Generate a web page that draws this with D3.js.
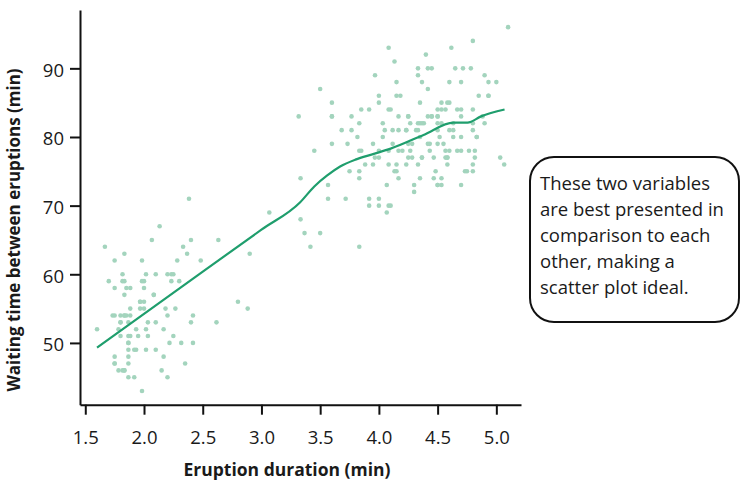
<!DOCTYPE html>
<html>
<head>
<meta charset="utf-8">
<script src="https://cdn.jsdelivr.net/npm/d3@7"></script>
<style>
  body { margin: 0; background: #fff; }
  text { font-family: "Open Sans", sans-serif; fill: #1a1a1a; }
</style>
</head>
<body>
<svg id="chart" width="740" height="484"></svg>
<script>
// Old Faithful: eruption duration (min) and waiting time (min)
var eruptions = [
  3.600,1.800,3.333,2.283,4.533,2.883,4.700,3.600,1.950,4.350,1.833,3.917,4.200,1.750,4.700,2.167,1.750,4.800,1.600,4.250,
  1.800,1.750,3.450,3.067,4.533,3.600,1.967,4.083,3.850,4.433,4.300,4.467,3.367,4.033,3.833,2.017,1.867,4.833,1.833,4.783,
  4.350,1.883,4.567,1.750,4.533,3.317,3.833,2.100,4.633,2.000,4.800,4.716,1.833,4.833,1.733,4.883,3.717,1.667,4.567,4.317,
  2.233,4.500,1.750,4.800,1.817,4.400,4.167,4.700,2.067,4.700,4.033,1.967,4.500,4.000,1.983,5.067,2.017,4.567,3.883,3.600,
  4.133,4.333,4.100,2.633,4.067,4.933,3.950,4.517,2.167,4.000,2.200,4.333,1.867,4.817,1.833,4.300,4.667,3.750,1.867,4.900,
  2.483,4.367,2.100,4.500,4.050,1.867,4.700,1.783,4.850,3.683,4.733,2.300,4.900,4.417,1.700,4.633,2.317,4.600,1.817,4.417,
  2.617,4.067,4.250,1.967,4.600,3.767,1.917,4.500,2.267,4.650,1.867,4.167,2.800,4.333,1.833,4.383,1.883,4.933,2.033,3.733,
  4.233,2.233,4.533,4.817,4.333,1.983,4.633,2.017,5.100,1.800,5.033,4.000,2.400,4.600,3.567,4.000,4.500,4.083,1.800,3.967,
  2.200,4.150,2.000,3.833,3.500,4.583,2.367,5.000,1.933,4.617,1.917,2.083,4.583,3.333,4.167,4.333,4.500,2.417,4.000,4.167,
  1.883,4.583,4.250,3.767,2.033,4.433,4.083,1.833,4.417,2.183,4.800,1.833,4.800,4.100,3.966,4.233,3.500,4.366,2.250,4.667,
  2.100,4.350,4.133,1.867,4.600,1.783,4.367,3.850,1.933,4.500,2.383,4.700,1.867,3.833,3.417,4.233,2.400,4.800,2.000,4.150,
  1.867,4.267,1.750,4.483,4.000,4.117,4.083,4.267,3.917,4.550,4.083,2.417,4.183,2.217,4.450,1.883,1.850,4.283,3.950,2.333,
  4.150,2.350,4.933,2.900,4.583,3.833,2.083,4.367,2.133,4.350,2.200,4.450,3.567,4.500,4.150,3.817,3.917,4.450,2.000,4.283,
  4.767,4.533,1.850,4.250,1.983,2.250,4.750,4.117,2.150,4.417,1.817,4.467
];
var waiting = [
  79,54,74,62,85,55,88,85,51,85,54,84,78,47,83,52,62,84,52,79,
  51,47,78,69,74,83,55,76,78,79,73,77,66,80,74,52,48,80,59,90,
  80,58,84,58,73,83,64,53,82,59,75,90,54,80,54,83,71,64,77,81,
  59,84,48,82,60,92,78,78,65,73,82,56,79,71,62,76,60,78,76,83,
  75,82,70,65,73,88,76,80,48,86,60,90,50,78,63,72,84,75,51,82,
  62,88,49,83,81,47,84,52,86,81,75,59,89,79,59,81,50,85,59,87,
  53,69,77,56,88,81,45,82,55,90,45,83,56,89,46,82,51,86,53,79,
  81,60,82,77,76,59,80,49,96,53,77,77,65,81,71,70,81,93,53,89,
  45,86,58,78,66,76,63,88,52,93,49,57,77,68,81,81,73,50,85,74,
  55,77,83,83,51,78,84,46,83,55,81,57,76,84,77,81,87,77,51,78,
  60,82,91,53,78,46,77,84,49,83,71,80,49,75,64,76,53,94,55,76,
  50,82,54,75,78,79,78,78,70,79,70,54,86,50,90,54,54,77,79,64,
  75,47,86,63,85,82,57,82,67,74,54,83,73,73,88,80,71,83,56,79,
  78,84,58,83,43,60,75,81,46,90,46,74
];

// smooth trend line
var smoothX = [1.6, 2.4, 3.0, 3.33, 3.45, 3.56, 3.67, 3.8, 3.95, 4.1, 4.38, 4.635, 4.755, 4.87, 5.07];
var smoothY = [49.3, 59.15, 66.5, 70.5, 72.8, 74.4, 75.7, 76.7, 77.5, 78.3, 80.3, 82.1, 82.1, 83.0, 84.0];

var xTicks = [1.5, 2.0, 2.5, 3.0, 3.5, 4.0, 4.5, 5.0];
var yTicks = [50, 60, 70, 80, 90];

var svg = d3.select("svg#chart");

var x = d3.scaleLinear().domain([1.455, 5.21]).range([80, 521]);
var y = d3.scaleLinear().domain([41.0, 98.5]).range([404.7, 10]);

// points
svg.append("g")
  .selectAll("circle")
  .data(eruptions)
  .enter()
  .append("circle")
  .attr("cx", function(d) { return x(d); })
  .attr("cy", function(d, i) { return y(waiting[i]); })
  .attr("r", 2.3)
  .attr("fill", "#a3d4bd");

// trend line
var line = d3.line()
  .x(function(d) { return x(d); })
  .y(function(d, i) { return y(smoothY[i]); })
  .curve(d3.curveMonotoneX);

svg.append("path")
  .datum(smoothX)
  .attr("d", line)
  .attr("fill", "none")
  .attr("stroke", "#1f9e6d")
  .attr("stroke-width", 2.2);

// axes
var xAxis = svg.append("g")
  .attr("transform", "translate(0,404.7)")
  .call(d3.axisBottom(x).tickValues(xTicks).tickFormat(d3.format(".1f")).tickSize(10).tickSizeOuter(0).tickPadding(16));

var yAxis = svg.append("g")
  .attr("transform", "translate(80,0)")
  .call(d3.axisLeft(y).tickValues(yTicks).tickSize(10).tickSizeOuter(0).tickPadding(6));

[xAxis, yAxis].forEach(function(a) {
  a.select(".domain").attr("stroke", "#111").attr("stroke-width", 2);
  a.selectAll(".tick line").attr("stroke", "#111").attr("stroke-width", 2);
  a.selectAll(".tick text")
    .style("font-family", "'Open Sans', sans-serif")
    .style("font-size", "18.5px")
    .attr("fill", "#1a1a1a");
});
yAxis.selectAll(".tick text").attr("dy", "0.42em");

// axis titles
svg.append("text")
  .attr("x", 287)
  .attr("y", 476)
  .attr("text-anchor", "middle")
  .style("font-size", "17.5px")
  .style("font-weight", "bold")
  .text("Eruption duration (min)");

svg.append("text")
  .attr("transform", "rotate(-90)")
  .attr("x", -230)
  .attr("y", 20)
  .attr("text-anchor", "middle")
  .style("font-size", "17px")
  .style("font-weight", "bold")
  .text("Waiting time between eruptions (min)");

// callout box
svg.append("rect")
  .attr("x", 530)
  .attr("y", 157)
  .attr("width", 209)
  .attr("height", 165)
  .attr("rx", 24)
  .attr("ry", 24)
  .attr("fill", "#fff")
  .attr("stroke", "#111")
  .attr("stroke-width", 2);

var note = [
  "These two variables",
  "are best presented in",
  "comparison to each",
  "other, making a",
  "scatter plot ideal."
];

svg.append("g")
  .selectAll("text")
  .data(note)
  .enter()
  .append("text")
  .attr("x", 540)
  .attr("y", function(d, i) { return 190 + i * 26; })
  .style("font-size", "18.5px")
  .text(function(d) { return d; });
</script>
</body>
</html>
